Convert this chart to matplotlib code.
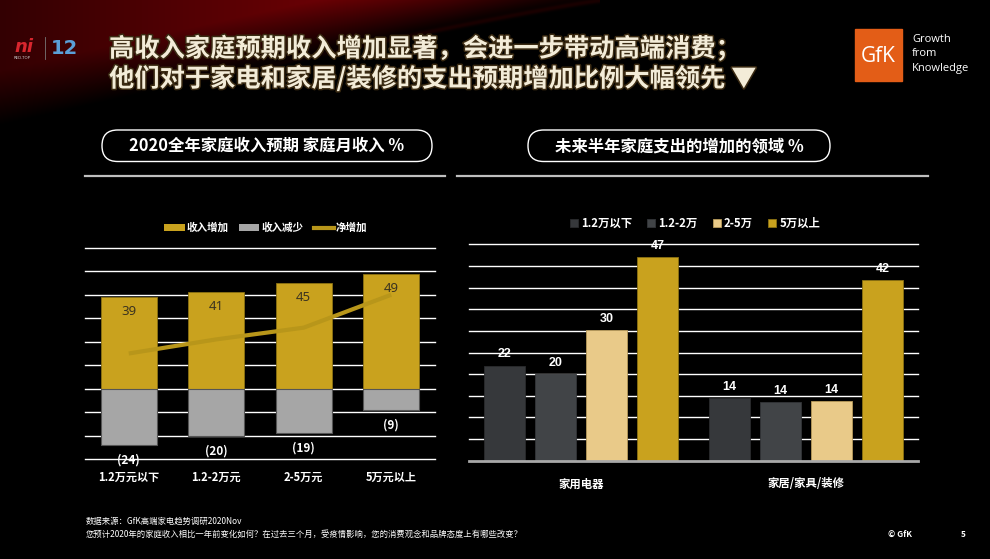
"""
高收入家庭收入预期 / 支出增加领域 - 双图复刻
"""

import numpy as np
import matplotlib
matplotlib.use('Agg')
import matplotlib.pyplot as plt
import matplotlib.patheffects as pe
from matplotlib.patches import FancyBboxPatch, Rectangle, Patch
from matplotlib.lines import Line2D

plt.rcParams['font.family'] = ['Noto Sans CJK SC', 'DejaVu Sans']

# ---- 数据 ----
# 左图: 2020全年家庭收入预期
income_groups = ['1.2万元以下', '1.2-2万元', '2-5万元', '5万元以上']
income_up = [39, 41, 45, 49]
income_down = [24, 20, 19, 9]
left_legend = ['收入增加', '收入减少', '净增加']

# 右图: 未来半年家庭支出的增加的领域
spend_areas = ['家用电器', '家居/家具/装修']
spend_series = ['1.2万以下', '1.2-2万', '2-5万', '5万以上']
spend_low = [22, 14.4]
spend_mid = [20, 13.5]
spend_high = [30.3, 13.7]
spend_top = [47, 41.7]

W, H = 990, 559
GOLD = '#C9A21E'
GRAY = '#A6A6A6'

fig = plt.figure(figsize=(W / 100, H / 100), dpi=100)
fig.patch.set_facecolor('black')

# 背景层(像素坐标)
bg = fig.add_axes([0, 0, 1, 1], zorder=0)
bg.set_xlim(0, W)
bg.set_ylim(H, 0)
bg.axis('off')

# 左上角暗红色光晕
xx, yy = np.meshgrid(np.arange(W), np.arange(H))
edge = 125 * np.clip(1 - xx / 600.0, 0, 1) ** 1.1
inside = np.clip((edge - yy) / 55.0, 0, 1)
strength = inside * (0.4 + 0.6 * np.clip(xx / 450.0, 0, 1))
rim = np.exp(-((yy - edge) / 2.5) ** 2) * np.clip((xx - 150) / 300.0, 0, 1) * (xx < 600) * 0.2
img = np.zeros((H, W, 3))
img[..., 0] = np.clip(strength * 0.5 + rim * 0.5, 0, 1)
img[..., 2] = strength * 0.02
bg.imshow(img, extent=(0, W, H, 0), aspect='auto', zorder=0)

# 标题
title_fx = [pe.withStroke(linewidth=2.2, foreground='#3a2a12')]
bg.text(109, 49, '高收入家庭预期收入增加显著，会进一步带动高端消费；', fontsize=18.2,
        fontweight='bold', color='#F3ECD8', va='center', path_effects=title_fx)
bg.text(109, 79, '他们对于家电和家居/装修的支出预期增加比例大幅领先 ▼', fontsize=18.2,
        fontweight='bold', color='#F3ECD8', va='center', path_effects=title_fx)

# 左上 logo
bg.text(14, 47, 'ni', fontsize=13, fontweight='bold', fontstyle='italic',
        color='#D7262E', va='center', family=['DejaVu Sans'])
bg.text(14, 58, 'RED-TOP', fontsize=2.8, color='#cccccc', va='center', family=['DejaVu Sans'])
bg.plot([45, 45], [37, 59], color='#777777', lw=0.6)
bg.text(51, 48, '12', fontsize=14, fontweight='bold', color='#5A9FD8', va='center',
        family=['DejaVu Sans'])

# GfK logo
bg.add_patch(Rectangle((855, 29.3), 46.7, 51.4, color='#E35D17', zorder=2))
bg.text(878, 57, 'GfK', fontsize=15, color='white', ha='center', va='center',
        family=['Open Sans'], zorder=3)
for i, word in enumerate(['Growth', 'from', 'Knowledge']):
    bg.text(912, 40 + i * 14, word, fontsize=8, color='white', va='center',
            family=['Open Sans'])

# 小标题胶囊框
for (x0, x1, text, fs) in [(102, 432, '2020全年家庭收入预期 家庭月收入 %', 11.8),
                           (528, 830, '未来半年家庭支出的增加的领域 %', 11.8)]:
    bg.add_patch(FancyBboxPatch((x0, 130), x1 - x0, 31.5,
                                boxstyle='round,pad=0,rounding_size=15.7',
                                facecolor='black', edgecolor='white', lw=1, zorder=2))
    bg.text((x0 + x1) / 2, 146, text, fontsize=fs, fontweight='bold', color='white',
            ha='center', va='center', zorder=3)

bg.plot([85, 445], [176, 176], color='#BFBFBF', lw=1.6)
bg.plot([457, 928], [176, 176], color='#BFBFBF', lw=1.6)

# 脚注
bg.text(86, 521.5, '数据来源：GfK高端家电趋势调研2020Nov', fontsize=6, color='white', va='center')
bg.text(86, 534.5, '您预计2020年的家庭收入相比一年前变化如何？在过去三个月，受疫情影响，'
        '您的消费观念和品牌态度上有哪些改变？', fontsize=6, color='white', va='center')
bg.text(888, 534.5, '© GfK', fontsize=6, color='white', fontweight='bold', va='center')
bg.text(961, 534.5, '5', fontsize=6, color='white', fontweight='bold', va='center')


def px_axes(x0, y_top, x1, y_bot):
    return fig.add_axes([x0 / W, 1 - y_bot / H, (x1 - x0) / W, (y_bot - y_top) / H], zorder=1)


def clean(ax):
    ax.set_facecolor('none')
    for s in ax.spines.values():
        s.set_visible(False)
    ax.set_yticks([])
    ax.tick_params(axis='x', length=0, labelcolor='white')


# ---- 左图 ----
ax1 = px_axes(85, 247.7, 435, 459.3)
clean(ax1)
ax1.set_ylim(-30, 60)
ax1.set_xlim(-0.5, 3.5)
for v in range(-30, 61, 10):
    ax1.axhline(v, color='white', lw=1, zorder=0, clip_on=False)

x = np.arange(len(income_groups))
net = [u - d for u, d in zip(income_up, income_down)]
ax1.bar(x, income_up, width=0.64, color=GOLD, edgecolor='#8C7212', lw=0.6, zorder=2)
ax1.bar(x, [-d for d in income_down], width=0.64, color=GRAY, edgecolor='#555555',
        lw=0.8, zorder=2)
ax1.plot(x, net, color='#B8961A', lw=3, zorder=3, solid_capstyle='butt')

for xi, u, d in zip(x, income_up, income_down):
    ax1.annotate(f'{u}', (xi, u), xytext=(0, -10.5), textcoords='offset points',
                 ha='center', va='center', fontsize=9.5, color='#3b3320',
                 family=['Noto Sans'], zorder=4)
    ax1.annotate(f'({d})', (xi, -d), xytext=(0, -10.8), textcoords='offset points',
                 ha='center', va='center', fontsize=8.5, color='white',
                 fontweight='bold', zorder=4)

ax1.set_xticks(x, income_groups)
ax1.tick_params(axis='x', pad=8.5, labelsize=8)
for lbl in ax1.get_xticklabels():
    lbl.set_fontweight('bold')

handles1 = [Patch(facecolor=GOLD), Patch(facecolor=GRAY),
            Line2D([0], [0], color='#B8961A', lw=3)]
ax1.legend(handles1, left_legend, loc='center', bbox_to_anchor=(266 / W, 1 - 228 / H),
           bbox_transform=fig.transFigure, ncol=3, frameon=False, labelcolor='white',
           prop={'size': 7.6, 'weight': 'bold'}, handlelength=1.9, handleheight=0.7,
           handletextpad=0.2, columnspacing=1.0)

# ---- 右图 ----
ax2 = px_axes(469, 244.5, 918, 460.7)
clean(ax2)
ax2.set_ylim(0, 50)
ax2.set_xlim(-0.5, 1.5)
for v in range(5, 51, 5):
    ax2.axhline(v, color='white', lw=1, zorder=0, clip_on=False)
ax2.axhline(0, color='#A8A8A8', lw=2, zorder=3, clip_on=False)

g = np.arange(len(spend_areas))
step, bw = 0.2277, 0.183
series = [spend_low, spend_mid, spend_high, spend_top]
colors = ['#36383B', '#414447', '#E9CA89', GOLD]
edges = ['#2a2b2d', '#333538', '#b89a5a', '#8C7212']
for k, (vals, c, ec) in enumerate(zip(series, colors, edges)):
    pos = g + (k - 1.5) * step
    ax2.bar(pos, vals, width=bw, color=c, edgecolor=ec, lw=0.6, zorder=2,
            label=spend_series[k])
    for p, v in zip(pos, vals):
        ax2.annotate(f'{v:.0f}', (p, v), xytext=(0, 8), textcoords='offset points',
                     ha='center', va='center', fontsize=9, color='white',
                     fontweight='bold', family=['Liberation Sans'], zorder=4)

ax2.set_xticks(g, spend_areas)
ax2.tick_params(axis='x', pad=12, labelsize=8.2)
for lbl in ax2.get_xticklabels():
    lbl.set_fontweight('bold')

ax2.legend(loc='center', bbox_to_anchor=(695 / W, 1 - 223 / H),
           bbox_transform=fig.transFigure, ncol=4, frameon=False, labelcolor='white',
           prop={'size': 8.2, 'weight': 'bold'}, handlelength=0.7, handleheight=0.7,
           handletextpad=0.3, columnspacing=1.3)

fig.savefig('out.png', dpi=100, facecolor='black')
